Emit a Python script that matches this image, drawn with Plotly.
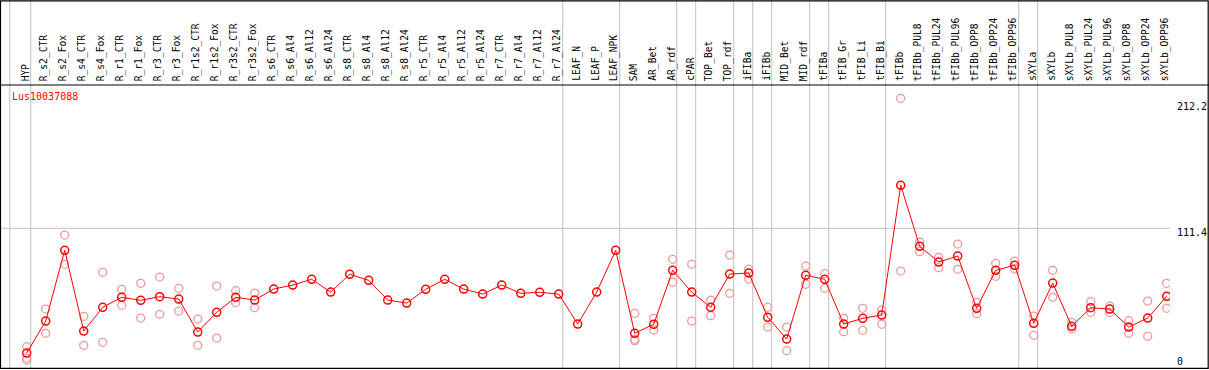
import plotly.graph_objects as go

categories = ["HYP", "R_s2_CTR", "R_s2_Fox", "R_s4_CTR", "R_s4_Fox", "R_r1_CTR", "R_r1_Fox",
              "R_r3_CTR", "R_r3_Fox", "R_r1s2_CTR", "R_r1s2_Fox", "R_r3s2_CTR", "R_r3s2_Fox",
              "R_s6_CTR", "R_s6_Al4", "R_s6_Al12", "R_s6_Al24", "R_s8_CTR", "R_s8_Al4",
              "R_s8_Al12", "R_s8_Al24", "R_r5_CTR", "R_r5_Al4", "R_r5_Al12", "R_r5_Al24",
              "R_r7_CTR", "R_r7_Al4", "R_r7_Al12", "R_r7_Al24", "LEAF_N", "LEAF_P", "LEAF_NPK",
              "SAM", "AR_Bet", "AR_rdf", "cPAR", "TOP_Bet", "TOP_rdf", "iFIBa", "iFIBb",
              "MID_Bet", "MID_rdf", "tFIBa", "tFIB_Gr", "tFIB_Li", "tFIB_Bi", "tFIBb",
              "tFIBb_PUL8", "tFIBb_PUL24", "tFIBb_PUL96", "tFIBb_OPP8", "tFIBb_OPP24",
              "tFIBb_OPP96", "sXYLa", "sXYLb", "sXYLb_PUL8", "sXYLb_PUL24", "sXYLb_PUL96",
              "sXYLb_OPP8", "sXYLb_OPP24", "sXYLb_OPP96"]

# group sizes (separators drawn after each group)
group_sizes = [1, 28, 3, 3, 1, 2, 1, 1, 2, 1, 3, 7, 1, 7]

means = [11.6, 37.2, 93.8, 29.2, 48.2, 56.2, 53.8, 56.7, 54.8, 28.4, 44.2, 56.2, 54.0,
         62.8, 66.0, 70.6, 60.4, 74.6, 69.8, 54.0, 51.6, 62.6, 70.6, 62.8, 58.8,
         66.0, 59.4, 60.2, 58.8, 34.8, 60.4, 93.8,
         27.4, 34.6, 77.8, 60.4, 48.2, 74.8, 75.6, 40.2, 22.8, 73.8, 70.6, 34.8, 39.4, 42.0,
         145.8, 97.0, 84.4, 89.2, 47.4, 77.8, 81.8, 35.4, 67.6, 33.0, 47.9, 46.8, 32.4, 39.6, 57.0]

# replicate values per category (empty where only the mean is drawn)
replicates = [
    [16.7, 7.6, 6.0], [46.8, 27.4], [106.0, 82.6], [41.0, 17.8], [76.2, 20.2],
    [62.6, 49.8], [67.4, 39.6], [72.4, 42.6], [63.4, 45.2], [38.8, 17.8], [65.2, 23.6],
    [61.5, 51.9], [59.6, 47.9],
    [], [], [], [], [], [], [], [], [], [], [], [], [], [], [], [], [], [], [],
    [43.4, 22.6, 21.5], [39.4, 30.0], [86.6, 68.2], [82.6, 37.2], [54.0, 41.5],
    [90.0, 59.4], [78.8, 70.8], [48.2, 32.4], [32.4, 13.5], [81.2, 66.6], [75.1, 63.4],
    [39.4, 28.7], [47.4, 29.8], [46.0, 34.6],
    [215.4, 77.2], [100.4, 92.7], [88.2, 79.9], [98.8, 78.6], [52.2, 43.1], [83.4, 73.0],
    [85.2, 78.8], [41.2, 25.8], [77.8, 56.2], [36.2, 31.1], [52.7, 44.2], [49.2, 43.9],
    [37.5, 27.4], [53.2, 25.0], [67.4, 47.4],
]

gene_name = "Lus10037088"
ytick_vals = [212.2, 111.4, 0]
ytick_text = ["212.2", "111.4", "0"]
grid_val = 111.4

FONT = "DejaVu Sans Mono"
W, H = 1209, 370
ML, MR, MT, MB = 1, 39, 85, 1
PH = H - MT - MB
PW = W - ML - MR

xi = list(range(len(categories)))
rx, ry = [], []
for i, reps in enumerate(replicates):
    for v in reps:
        rx.append(i)
        ry.append(v)

fig = go.Figure()
fig.add_trace(go.Scatter(x=rx, y=ry, mode="markers",
                         marker=dict(symbol="circle-open", size=8, color="#ec9a9a",
                                     line=dict(width=1.3, color="#ec9a9a")),
                         hoverinfo="skip", showlegend=False))
fig.add_trace(go.Scatter(x=xi, y=means, mode="lines+markers",
                         line=dict(color="#ff0000", width=1),
                         marker=dict(symbol="circle-open", size=8, color="#ff0000",
                                     line=dict(width=1.5, color="#ff0000")),
                         showlegend=False))

shapes = []
top_paper = 1 + MT / PH
# group separators
b = -1
bounds = [b]
for g in group_sizes:
    b += g
    bounds.append(b)
for k, bd in enumerate(bounds):
    xpos = bd + 4 / 19 if k > 0 else bd + 3 / 19 - 0.05
    shapes.append(dict(type="line", xref="x", yref="paper", x0=xpos, x1=xpos,
                       y0=0, y1=top_paper, line=dict(color="#c0c0c0", width=1), layer="below"))
# gridline
shapes.append(dict(type="line", xref="paper", yref="y", x0=0, x1=1, y0=grid_val, y1=grid_val,
                   line=dict(color="#c0c0c0", width=1), layer="below"))
# header bottom line
shapes.append(dict(type="line", xref="paper", yref="paper", x0=-ML / PW, x1=1 + MR / PW,
                   y0=1.0, y1=1.0, line=dict(color="black", width=1.2)))
# outer frame
shapes.append(dict(type="rect", xref="paper", yref="paper", x0=-0.5 / PW, x1=1 + (MR - 0.8) / PW,
                   y0=0.002, y1=top_paper - 0.003, line=dict(color="black", width=1.2),
                   fillcolor="rgba(0,0,0,0)"))

annotations = []
for i, c in enumerate(categories):
    annotations.append(dict(x=i, xref="x", y=1 + 2 / PH, yref="paper", text=c, textangle=-90,
                            showarrow=False, xanchor="center", yanchor="bottom", xshift=-1.5,
                            font=dict(family=FONT, size=9.6, color="black")))
annotations.append(dict(x=9 / PW, xref="paper", y=1 - 12 / PH, yref="paper", text=gene_name,
                        showarrow=False, xanchor="left", yanchor="middle",
                        font=dict(family=FONT, size=10, color="#ff0000")))
shifts = [-4, -4, 6]
for v, t, s in zip(ytick_vals, ytick_text, shifts):
    annotations.append(dict(x=1 + 5 / PW, xref="paper", y=v, yref="y", text=t, showarrow=False,
                            xanchor="left", yanchor="middle", yshift=s,
                            font=dict(family=FONT, size=10, color="black")))

fig.update_layout(
    width=W, height=H,
    margin=dict(l=ML, r=MR, t=MT, b=MB, pad=0),
    paper_bgcolor="white", plot_bgcolor="white",
    xaxis=dict(range=[-1.353, 60.174], visible=False, showgrid=False, zeroline=False),
    yaxis=dict(range=[-1.16, 226.04], visible=False, showgrid=False, zeroline=False),
    shapes=shapes, annotations=annotations, showlegend=False,
)

fig.write_html("out.html", config={"displayModeBar": False},
               post_script="document.body.style.margin='0';document.body.style.padding='0';"
                           "document.body.style.overflow='hidden';")
